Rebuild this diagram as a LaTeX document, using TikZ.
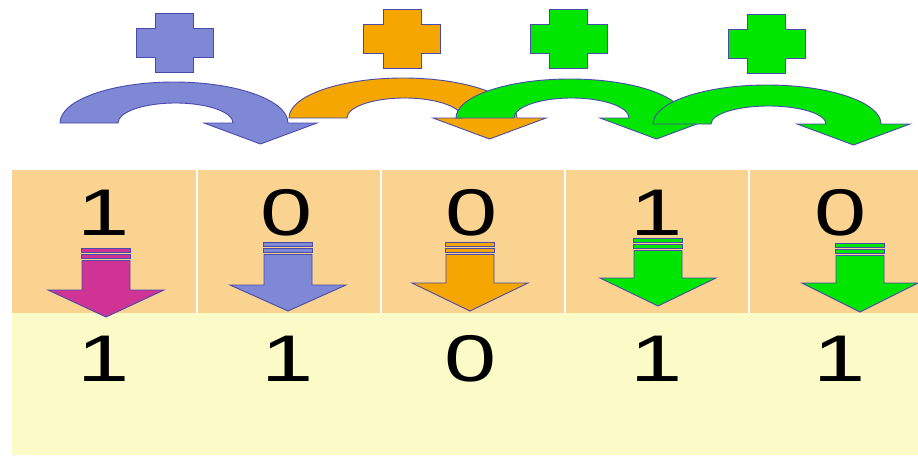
\documentclass[tikz,border=0pt]{standalone}
\usepackage{fontspec}
\setmainfont{Liberation Sans}

\definecolor{cellorange}{HTML}{F9D38F}
\definecolor{cellyellow}{HTML}{FAFBC6}
\definecolor{arrblue}{HTML}{7E88D5}
\definecolor{arrorange}{HTML}{F6A600}
\definecolor{arrgreen}{HTML}{00E600}
\definecolor{arrmagenta}{HTML}{CF3394}
\definecolor{edgeblue}{HTML}{4A4AAE}

\tikzset{
  cell/.style={fill=cellorange},
  lowband/.style={fill=cellyellow},
  digit/.style={font=\fontsize{66}{70}\selectfont, inner sep=0pt, anchor=base, text=black},
  shape edge/.style={draw=edgeblue, line width=0.9pt, line join=miter},
}

% plus sign centred at (#1,#2), filled with #3
\newcommand\plusmark[3]{%
  \begin{scope}[shift={(#1,#2)}]
    \draw[shape edge, fill=#3]
      (-19,-29.5) -- (19,-29.5) -- (19,-14.5) -- (38.5,-14.5) -- (38.5,14.5)
      -- (19,14.5) -- (19,29.5) -- (-19,29.5) -- (-19,14.5) -- (-38.5,14.5)
      -- (-38.5,-14.5) -- (-19,-14.5) -- cycle;
  \end{scope}}

% curved carry arrow: outer foot at (#1,#2), outer/inner heights #3/#4, colour #5
\newcommand\carryarrow[5]{%
  \begin{scope}[shift={(#1,#2)}]
    \draw[shape edge, fill=#5]
      (0,0) arc[start angle=180, end angle=0, x radius=114pt, y radius=#3pt]
      -- (257,0) -- (200.5,21) -- (144,0) -- (173,0)
      arc[start angle=0, end angle=180, x radius=57.5pt, y radius=#4pt]
      -- cycle;
  \end{scope}}

% striped down arrow: centre #1, top #2, head base #3, tip #4, colour #5
\newcommand\stripedarrow[5]{%
  \draw[shape edge, fill=#5] (#1-24.5,#2) rectangle (#1+24.5,#2+4.5);
  \draw[shape edge, fill=#5] (#1-24.5,#2+6) rectangle (#1+24.5,#2+10.5);
  \draw[shape edge, fill=#5]
    (#1-24,#2+12.5) -- (#1+24,#2+12.5) -- (#1+24,#3) -- (#1+58,#3)
    -- (#1,#4) -- (#1-58,#3) -- (#1-24,#3) -- cycle;}

\begin{document}
\begin{tikzpicture}[x=1pt, y=-1pt]
  \useasboundingbox (0,0) rectangle (918,455);
  \fill[white] (0,0) rectangle (918,455);

  % table rows
  \fill[lowband] (12,313) rectangle (918,455);
  \fill[cell] (12,170)    rectangle (195.5,313);
  \fill[cell] (197.5,170) rectangle (379.5,313);
  \fill[cell] (381.5,170) rectangle (563.5,313);
  \fill[cell] (565.5,170) rectangle (747.5,313);
  \fill[cell] (749.5,170) rectangle (918,313);

  % input bits
  \node[digit] (a1) at (104,235)   {\scalebox{1.42}[1]{1}};
  \node[digit] (a2) at (287,235)   {\scalebox{1.42}[1]{0}};
  \node[digit] (a3) at (471.5,235) {\scalebox{1.42}[1]{0}};
  \node[digit] (a4) at (657,235)   {\scalebox{1.42}[1]{1}};
  \node[digit] (a5) at (840.5,235) {\scalebox{1.42}[1]{0}};

  % result bits
  \node[digit] (b1) at (103.5,381) {\scalebox{1.42}[1]{1}};
  \node[digit] (b2) at (288,381)   {\scalebox{1.42}[1]{1}};
  \node[digit] (b3) at (471,381)   {\scalebox{1.42}[1]{0}};
  \node[digit] (b4) at (657,381)   {\scalebox{1.42}[1]{1}};
  \node[digit] (b5) at (840,381)   {\scalebox{1.42}[1]{1}};

  % down arrows
  \stripedarrow{106}{248}{290}{317}{arrmagenta}
  \stripedarrow{288}{242}{285}{311}{arrblue}
  \stripedarrow{470}{242}{283}{311}{arrorange}
  \stripedarrow{658}{238}{278}{306}{arrgreen}
  \stripedarrow{860}{243}{283}{312}{arrgreen}

  % carry arrows
  \carryarrow{60}{123}{41}{20}{arrblue}
  \carryarrow{289}{118}{40}{20}{arrorange}
  \carryarrow{456}{118}{39}{20}{arrgreen}
  \carryarrow{653}{124}{39}{18}{arrgreen}

  % plus signs
  \plusmark{174.5}{42.5}{arrblue}
  \plusmark{402}{38.5}{arrorange}
  \plusmark{568.5}{38.5}{arrgreen}
  \plusmark{766.5}{44}{arrgreen}
\end{tikzpicture}
\end{document}
